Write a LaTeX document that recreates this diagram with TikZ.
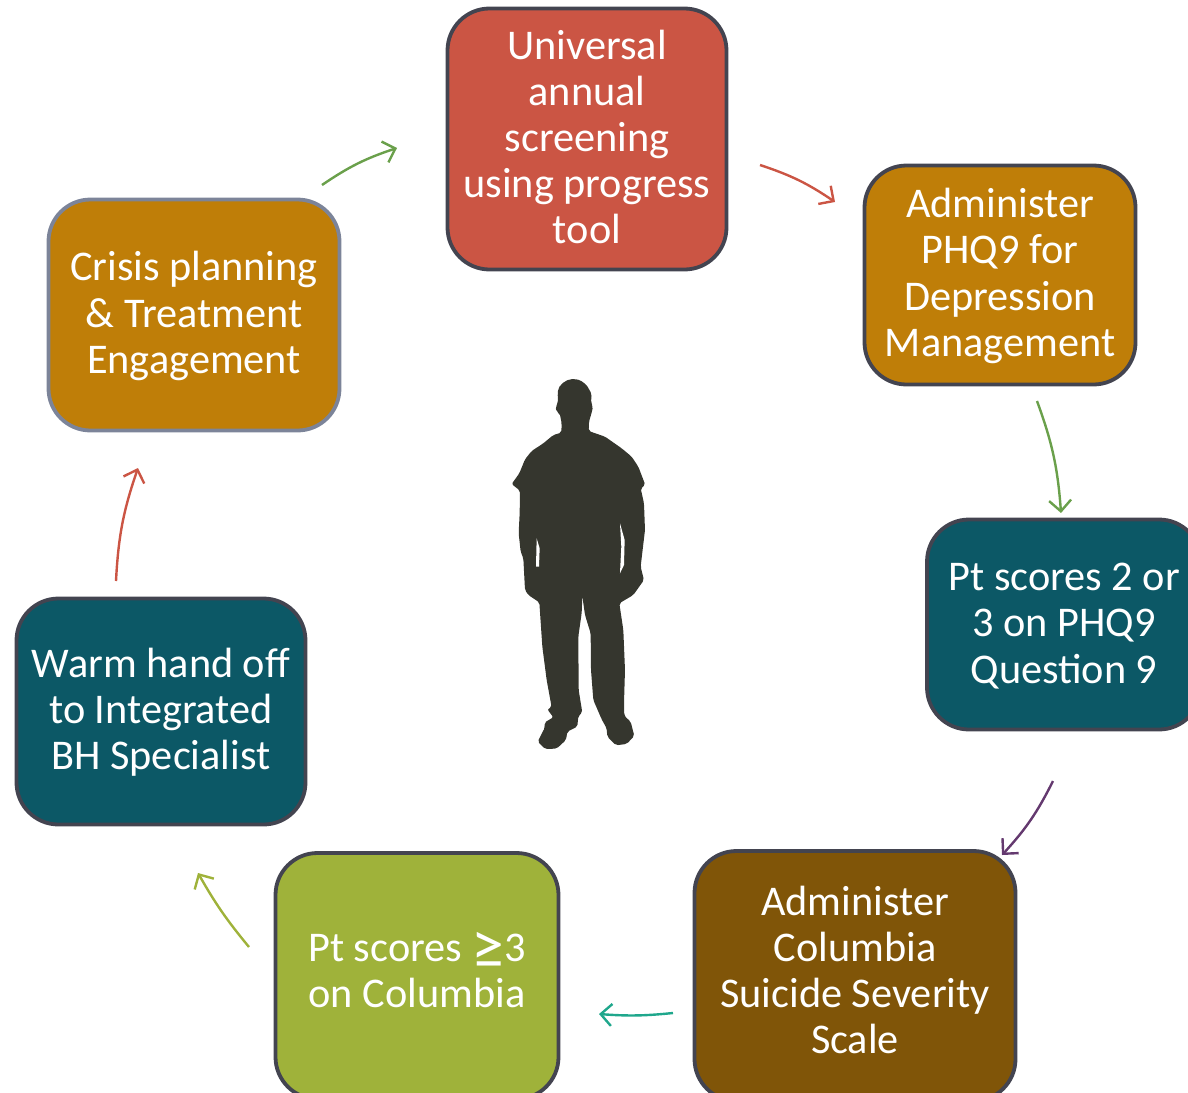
\documentclass[tikz,border=0pt]{standalone}
\usepackage{fontspec}
\usepackage{graphicx}
\setmainfont{Carlito}
\usetikzlibrary{arrows.meta}
\definecolor{cRed}{HTML}{CB5544}
\definecolor{cOchre}{HTML}{BF7E08}
\definecolor{cTeal}{HTML}{0C5866}
\definecolor{cBrown}{HTML}{805508}
\definecolor{cLime}{HTML}{9FB23A}
\definecolor{cEdge}{HTML}{434450}
\definecolor{cEdgeB}{HTML}{7C8499}
\definecolor{cFig}{HTML}{35362E}
\definecolor{aGreen}{HTML}{6AA04B}
\definecolor{aRed}{HTML}{CB5544}
\definecolor{aPurple}{HTML}{64396F}
\definecolor{aTeal}{HTML}{1FA78C}
\definecolor{aLime}{HTML}{9FB23A}
\tikzset{
 box/.style={draw=cEdge,line width=3.8pt,rounded corners=42pt,inner sep=0pt,outer sep=0pt},
 lbl/.style={text=white,align=center,font=\fontsize{42.3}{46.2}\selectfont,inner sep=0pt},
 arr/.style={line width=2.4pt,-{Straight Barb[length=11pt,width=22pt,line width=2.4pt]}},
}
\begin{document}
\begin{tikzpicture}[x=1pt,y=-1pt]
\useasboundingbox (0,0) rectangle (1188,1092);
\clip (0,0) rectangle (1188,1092);
% boxes
\node[box,fill=cRed,minimum width=279pt,minimum height=261pt] (uni) at (587,139) {};
\node[box,fill=cOchre,minimum width=271pt,minimum height=219pt] (phq) at (1000,275) {};
\node[box,fill=cTeal,minimum width=274pt,minimum height=210pt] (pt) at (1064,624.5) {};
\node[box,fill=cBrown,minimum width=321pt,minimum height=250pt] (col) at (855,976) {};
\node[box,fill=cLime,minimum width=283pt,minimum height=246pt] (sc) at (417,976) {};
\node[box,fill=cTeal,minimum width=289pt,minimum height=226pt] (warm) at (161,711.5) {};
\node[box,draw=cEdgeB,fill=cOchre,minimum width=291pt,minimum height=231pt] (cri) at (194,315) {};
% labels
\node[lbl] (tuni) at (587,137) {Universal\\annual\\screening\\using progress\\tool};
\node[lbl] (tphq) at (1000,276) {Administer\\PHQ9 for\\Depression\\Management};
\node[lbl] (tpt) at (1064,626) {Pt scores 2 or\\3 on PHQ9\\Question 9};
\node[lbl] (tcol) at (855,970) {Administer\\Columbia\\Suicide Severity\\Scale};
\node[lbl] (tsc) at (417,971) {Pt scores \smash{\raisebox{-7pt}{\scalebox{1.55}{≥}}}3\\on Columbia};
\node[lbl] (twarm) at (161,712) {Warm hand off\\to Integrated\\BH Specialist};
\node[lbl] (tcri) at (194,316) {Crisis planning\\\& Treatment\\Engagement};
% connector ends
\coordinate (a1s) at (760,165); \coordinate (a1e) at (835,202);
\coordinate (a2s) at (1037,401); \coordinate (a2e) at (1061,513);
\coordinate (a3s) at (1053,781); \coordinate (a3e) at (1002,855);
\coordinate (a4s) at (673,1013); \coordinate (a4e) at (599,1014);
\coordinate (a5s) at (249,947); \coordinate (a5e) at (198,873);
\coordinate (a6s) at (116,581); \coordinate (a6e) at (138,468);
\coordinate (a7s) at (322,185); \coordinate (a7e) at (397,148);
\draw[arr,aRed] (a1s) to[bend left=8] (a1e);
\draw[arr,aGreen] (a2s) to[bend left=8] (a2e);
\draw[arr,aPurple] (a3s) to[bend left=8] (a3e);
\draw[arr,aTeal] (a4s) to[bend left=5] (a4e);
\draw[arr,aLime] (a5s) to[bend left=5] (a5e);
\draw[arr,aRed] (a6s) to[bend left=8] (a6e);
\draw[arr,aGreen] (a7s) to[bend left=8] (a7e);
% silhouette
\begin{scope}[shift={(490,370)},x=0.3333pt,y=-0.3333pt]
\fill[cFig,rounded corners=2pt] (252,27) .. controls (228,28) and (205,45) .. (203,70)
 -- (204,98) -- (197,110) -- (199,125) -- (209,130) -- (215,160) -- (214,188)
 -- (190,195) -- (160,220) -- (125,243) -- (105,268) -- (88,310) -- (65,342)
 -- (90,362) -- (89,430) -- (86,490) -- (92,545) -- (100,565) -- (105,660)
 -- (115,675) -- (148,697) -- (157,830) -- (170,930) -- (185,1012) -- (172,1018)
 -- (190,1042) -- (163,1058) -- (165,1072) -- (143,1115) -- (165,1137)
 -- (200,1136) -- (228,1110) -- (232,1085) -- (262,1070) -- (265,1038) -- (277,1028)
 -- (266,960) -- (265,800) -- (275,730) -- (277,678) -- (285,735) -- (302,790)
 -- (303,900) -- (310,990) -- (335,1048) -- (350,1075) -- (352,1100) -- (378,1126)
 -- (410,1122) -- (433,1098) -- (422,1055) -- (403,1038) -- (402,1000)
 -- (405,900) -- (400,780) -- (388,700) -- (430,675) -- (462,630) -- (452,590)
 -- (465,480) -- (462,400) -- (452,355) -- (466,345) -- (445,290) -- (425,260)
 -- (395,235) -- (345,200) -- (296,183) -- (297,155) -- (305,128) -- (309,110)
 -- (303,98) -- (305,72) -- (290,45) -- (270,30) -- cycle;
\fill[white] (140,505) -- (149,535) -- (147,590) -- (138,590) -- cycle;
\fill[white] (390,460) -- (404,510) -- (402,585) -- (390,610) -- (394,530) -- cycle;
\end{scope}
\end{tikzpicture}
\end{document}
